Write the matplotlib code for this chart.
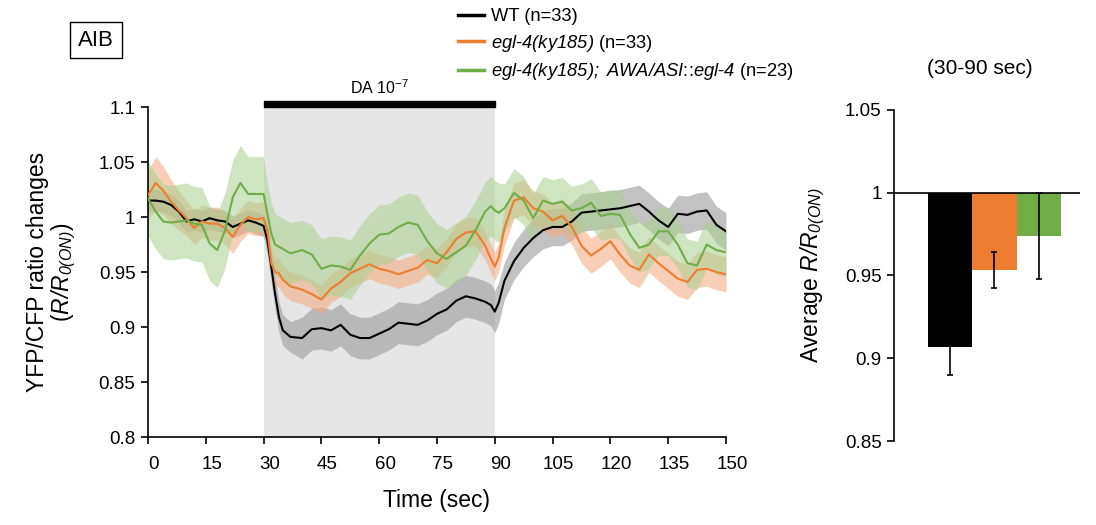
import numpy as np
import matplotlib
matplotlib.use("Agg")
import matplotlib.pyplot as plt
from matplotlib.patches import Rectangle
from matplotlib.lines import Line2D
import matplotlib.transforms as mtransforms

plt.rcParams['font.family'] = ['Liberation Sans', 'DejaVu Sans']
# math text is only used for the italic gene / ratio names, so make it all italic
plt.rcParams['mathtext.fontset'] = 'custom'
plt.rcParams['mathtext.rm'] = 'Liberation Sans:italic'
plt.rcParams['mathtext.it'] = 'Liberation Sans:italic'
plt.rcParams['mathtext.sf'] = 'Liberation Sans'
plt.rcParams['mathtext.bf'] = 'Liberation Sans:bold'

# time points (sec)
time = [0, 2, 4, 6, 8, 10, 12, 14, 16, 18, 20, 22, 24, 26, 28, 30,
        31, 32, 33, 34, 35, 37,
        40, 42.5, 45, 47.5, 50, 52.5, 55, 57.5, 60, 62.5, 65, 67.5, 70, 72.5,
        75, 77.5, 80, 82.5, 85, 87.5, 89, 90, 91,
        92.5, 95, 97.5, 100, 102.5, 105, 107.5, 110, 112.5, 115, 117.5, 120,
        122.5, 125, 127.5, 130, 132.5, 135, 137.5, 140, 142.5, 145, 147.5, 150]

wt = [1.015, 1.015, 1.014, 1.011, 1.005, 0.996, 0.998, 0.996, 0.999, 0.997,
      0.996, 0.991, 0.994, 0.997, 0.995, 0.992,
      0.979, 0.955, 0.930, 0.909, 0.897, 0.891,
      0.890, 0.898, 0.899, 0.897, 0.902, 0.893, 0.890, 0.890, 0.894, 0.898,
      0.904, 0.903, 0.902, 0.906, 0.912, 0.916, 0.924, 0.928, 0.926, 0.923,
      0.920, 0.914, 0.922,
      0.942, 0.960, 0.972, 0.981, 0.988, 0.991, 0.991, 0.996, 1.004, 1.005,
      1.006, 1.007, 1.008, 1.010, 1.012, 1.005, 0.997, 0.991, 1.003, 1.002,
      1.005, 1.006, 0.993, 0.987]

egl4 = [1.020, 1.031, 1.024, 1.014, 1.006, 0.999, 0.990, 0.996, 0.994, 0.994,
        0.990, 0.982, 0.993, 1.000, 0.998, 0.999,
        0.988, 0.958, 0.950, 0.949, 0.943, 0.937,
        0.934, 0.930, 0.925, 0.935, 0.941, 0.949, 0.953, 0.957, 0.953, 0.951,
        0.948, 0.951, 0.954, 0.961, 0.958, 0.968, 0.980, 0.986, 0.987, 0.974,
        0.962, 0.955, 0.963,
        0.990, 1.015, 1.018, 1.008, 1.005, 0.997, 1.001, 0.991, 0.974, 0.965,
        0.971, 0.978, 0.966, 0.956, 0.952, 0.966, 0.958, 0.951, 0.944, 0.941,
        0.952, 0.953, 0.950, 0.948]

rescue = [1.017, 1.005, 0.996, 0.995, 0.996, 0.997, 0.994, 0.993, 0.976, 0.970,
          0.988, 1.018, 1.031, 1.021, 1.021, 1.021,
          1.003, 0.985, 0.975, 0.973, 0.971, 0.967,
          0.970, 0.966, 0.953, 0.956, 0.955, 0.952, 0.965, 0.976, 0.984, 0.985,
          0.991, 0.995, 0.993, 0.978, 0.967, 0.962, 0.968, 0.974, 0.988, 1.005,
          1.010, 1.006, 1.004,
          1.008, 1.022, 1.015, 0.999, 1.015, 1.012, 1.014, 1.006, 1.008, 1.013,
          1.001, 1.003, 1.002, 0.985, 0.972, 0.975, 0.987, 0.987, 0.975, 0.958,
          0.956, 0.975, 0.970, 0.968]

# SEM half-widths of the shaded bands
wt_sem = [0.010] * 16 + [0.014] * 6 + [0.019] * 23 + [0.017] * 24
egl4_sem = [0.022, 0.024, 0.022, 0.02, 0.018, 0.016, 0.015, 0.015, 0.015, 0.015,
            0.015, 0.015, 0.015, 0.015, 0.015, 0.015] + [0.013] * 6 + [0.013] * 23 + [0.016] * 24
rescue_sem = [0.034] * 16 + [0.028] * 6 + [0.027] * 23 + [0.022] * 24

series_labels = ['WT (n=33)',
                 r'$egl$-$4(ky185)$ (n=33)',
                 r'$egl$-$4(ky185);\ AWA/ASI$::$egl$-$4$ (n=23)']
colors = ['#000000', '#ed7d31', '#70ad47']
band_colors = ['#9a9a9a', '#f4a87a', '#a9d18e']
band_alpha = [0.6, 0.55, 0.55]

# bar panel: mean over 30-90 sec
bar_means = [0.9066, 0.9534, 0.974]
bar_sem = [0.0166, 0.0107, 0.026]

xticks = list(range(0, 151, 15))
yticks_left = [0.8, 0.85, 0.9, 0.95, 1.0, 1.05, 1.1]
yticks_right = [0.85, 0.9, 0.95, 1.0, 1.05]


def fmt(v):
    s = ('%.2f' % v).rstrip('0').rstrip('.')
    return s


fig = plt.figure(figsize=(10.96, 5.25), dpi=100)
ax = fig.add_axes([0.135, 0.1676, 0.5274, 0.6284])
ax2 = fig.add_axes([0.8157, 0.16, 0.1697, 0.6305])

# stimulus window
ax.axvspan(30, 90, color='#e6e6e6', zorder=0, lw=0)
ax.add_patch(Rectangle((30, 1.1), 60, 0.0055, color='black', clip_on=False, zorder=5))
ax.text(60, 1.1175, r'DA 10$^{\mathsf{-7}}$', ha='center', va='center', fontsize=11.5)

all_series = [wt, egl4, rescue]
all_sem = [wt_sem, egl4_sem, rescue_sem]
t = np.array(time)
for m, s, bc, a in zip(all_series, all_sem, band_colors, band_alpha):
    m = np.array(m)
    s = np.array(s)
    ax.fill_between(t, m - s, m + s, color=bc, alpha=a, lw=0, zorder=1)
for m, c in zip(all_series, colors):
    ax.plot(t, m, color=c, lw=1.5, zorder=3)

ax.set_xlim(0, 150)
ax.set_ylim(0.8, 1.1)
ax.set_xticks(xticks)
ax.set_xticklabels([str(x) for x in xticks])
ax.set_yticks(yticks_left)
ax.set_yticklabels([fmt(v) for v in yticks_left])
for sp in ['top', 'right']:
    ax.spines[sp].set_visible(False)
for sp in ['left', 'bottom']:
    ax.spines[sp].set_linewidth(1.2)
ax.tick_params(direction='out', length=5, width=1.2, labelsize=13.5, pad=4)
ax.tick_params(axis='x', pad=9)
offset = mtransforms.ScaledTranslation(6 / 100, 0, fig.dpi_scale_trans)
for lab in ax.get_xticklabels():
    lab.set_transform(lab.get_transform() + offset)
ax.set_xlabel('Time (sec)', fontsize=16.5, labelpad=11)
ax.set_ylabel('YFP/CFP ratio changes\n($R/R_{0(ON)}$)',
              fontsize=16.5, labelpad=15, linespacing=1.0)

# bar panel
xpos = np.arange(len(bar_means))
heights = [v - 1 for v in bar_means]
ax2.bar(xpos, heights, bottom=1, width=1.0, color=colors, zorder=2)
ax2.errorbar(xpos, bar_means, yerr=bar_sem, fmt='none', ecolor='black',
             elinewidth=1.2, capsize=2.5, capthick=1.2, zorder=3)
ax2.axhline(1, color='black', lw=1.2, zorder=4)
ax2.set_xlim(-1.266, 2.93)
ax2.set_ylim(0.85, 1.05)
ax2.set_yticks(yticks_right)
ax2.set_yticklabels([fmt(v) for v in yticks_right])
ax2.set_xticks([])
for sp in ['top', 'right', 'bottom']:
    ax2.spines[sp].set_visible(False)
ax2.spines['left'].set_linewidth(1.2)
ax2.tick_params(direction='out', length=5, width=1.2, labelsize=13.5, pad=4)
ax2.set_ylabel('Average $R/R_{0(ON)}$', fontsize=16.5, labelpad=13)
fig.text(980 / 1096, 1 - 68 / 525, '(30-90 sec)', ha='center', va='center', fontsize=15)

# legend
handles = [Line2D([], [], color=c, lw=2.5) for c in colors]
fig.legend(handles, series_labels, loc='upper left',
           bbox_to_anchor=(458 / 1096, 1 - 8 / 525), frameon=False,
           fontsize=13.2, handlelength=1.4, handletextpad=0.4,
           labelspacing=0.42, borderpad=0, borderaxespad=0)

fig.text(96 / 1096, 1 - 40 / 525, 'AIB', ha='center', va='center', fontsize=16,
         bbox=dict(boxstyle='square,pad=0.35', fc='white', ec='black', lw=1))

fig.savefig('out.png', dpi=100)
